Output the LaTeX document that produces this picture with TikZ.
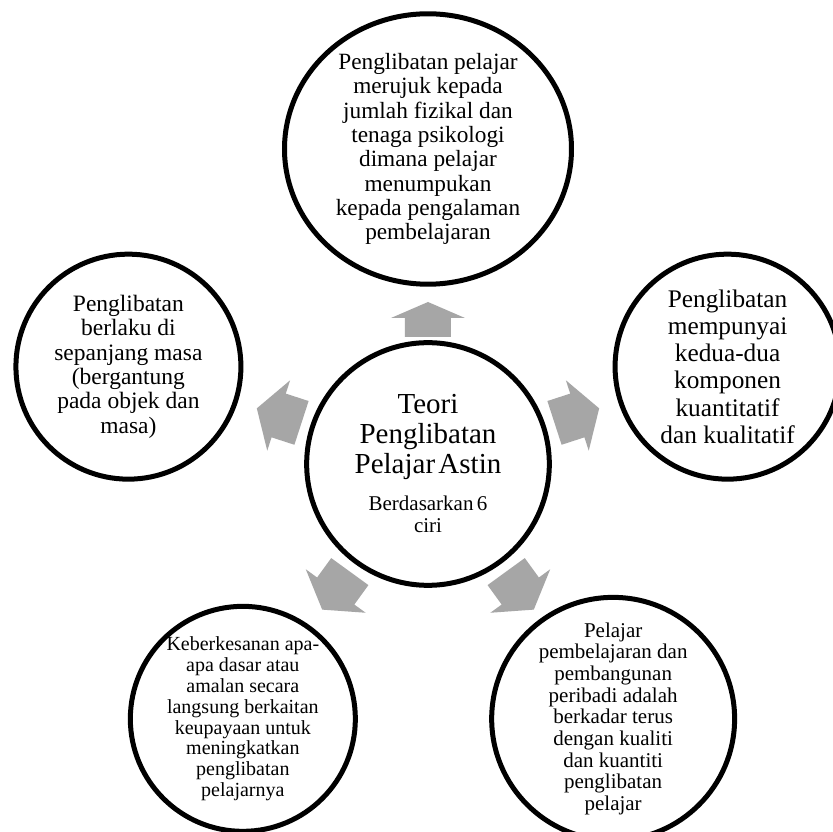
\documentclass[tikz,border=0pt]{standalone}
\usepackage{fontspec}
\setmainfont{Liberation Serif}
\usetikzlibrary{shapes.geometric}

\definecolor{kelabu}{HTML}{A6A6A6}

\tikzset{
  bulatan/.style={circle, draw=black, line width=5pt, fill=white,
    minimum size=225pt, inner sep=0pt, align=center},
  panahkelabu/.style={fill=kelabu},
  saiz/.style n args={2}{font=\fontsize{#1}{#2}\selectfont}
}

\begin{document}
\begin{tikzpicture}[x=1pt,y=1pt]
  % Bingkai gambar (pusat bulatan tengah di asalan)
  \clip (-428,-368) rectangle (405,464);
  \fill[white] (-428,-368) rectangle (405,464);

  %——————————————————————————————————————————————
  % Bulatan tengah
  %——————————————————————————————————————————————
  \node[bulatan, minimum size=224pt, text width=200pt] (pusat) at (0,0)
    {{\fontsize{29}{30}\selectfont Teori\\ Penglibatan\\ Pelajar Astin\par}
     \vspace{15pt}
     {\fontsize{21}{22}\selectfont Berdasarkan 6\\ ciri\par}};

  %——————————————————————————————————————————————
  % Bulatan luar (lima ciri)
  %——————————————————————————————————————————————
  % Atas: elips lebih besar
  \node[bulatan, ellipse, minimum width=287pt, minimum height=267pt,
    saiz={23.3}{24.3}] (atas) at (90:315)
    {Penglibatan pelajar\\ merujuk kepada\\ jumlah fizikal dan\\
     tenaga psikologi\\ dimana pelajar\\ menumpukan\\ kepada pengalaman\\
     pembelajaran};
  % Kiri
  \node[bulatan, saiz={23.5}{24.4}] (kiri) at (162:315)
    {Penglibatan\\ berlaku di\\ sepanjang masa\\ (bergantung\\
     pada objek dan\\ masa)};
  % Kanan
  \node[bulatan, saiz={25.3}{27.3}] (kanan) at (18:315)
    {Penglibatan\\ mempunyai\\ kedua-dua\\ komponen\\ kuantitatif\\
     dan kualitatif};
  % Bawah kiri
  \node[bulatan, saiz={20}{20.8}] (bawahkiri) at (234:315)
    {Keberkesanan apa-\\ apa dasar atau\\ amalan secara\\
     langsung berkaitan\\ keupayaan untuk\\ meningkatkan\\ penglibatan\\
     pelajarnya};
  % Bawah kanan
  \node[bulatan, saiz={21}{21.7}] (bawahkanan) at (306:315)
    {Pelajar\\ pembelajaran dan\\ pembangunan\\ peribadi adalah\\
     berkadar terus\\ dengan kualiti\\ dan kuantiti\\ penglibatan\\ pelajar};

  %——————————————————————————————————————————————
  % Anak panah blok kelabu dari tengah ke luar
  %——————————————————————————————————————————————
  % sudut / jarak ekor / panjang batang / panjang kepala
  \foreach \sudut/\jarak/\batang/\kepala in
      {90/127/19/16, 162/133/24/23, 18/133/24/23, 234/133/24/23, 306/133/24/23}
    \fill[panahkelabu, rotate=\sudut] (\jarak,-23) -- ++(\batang,0)
      -- ++(0,-14) -- ++(\kepala,37) -- ++(-\kepala,37) -- ++(0,-14)
      -- ++(-\batang,0) -- cycle;
\end{tikzpicture}
\end{document}
